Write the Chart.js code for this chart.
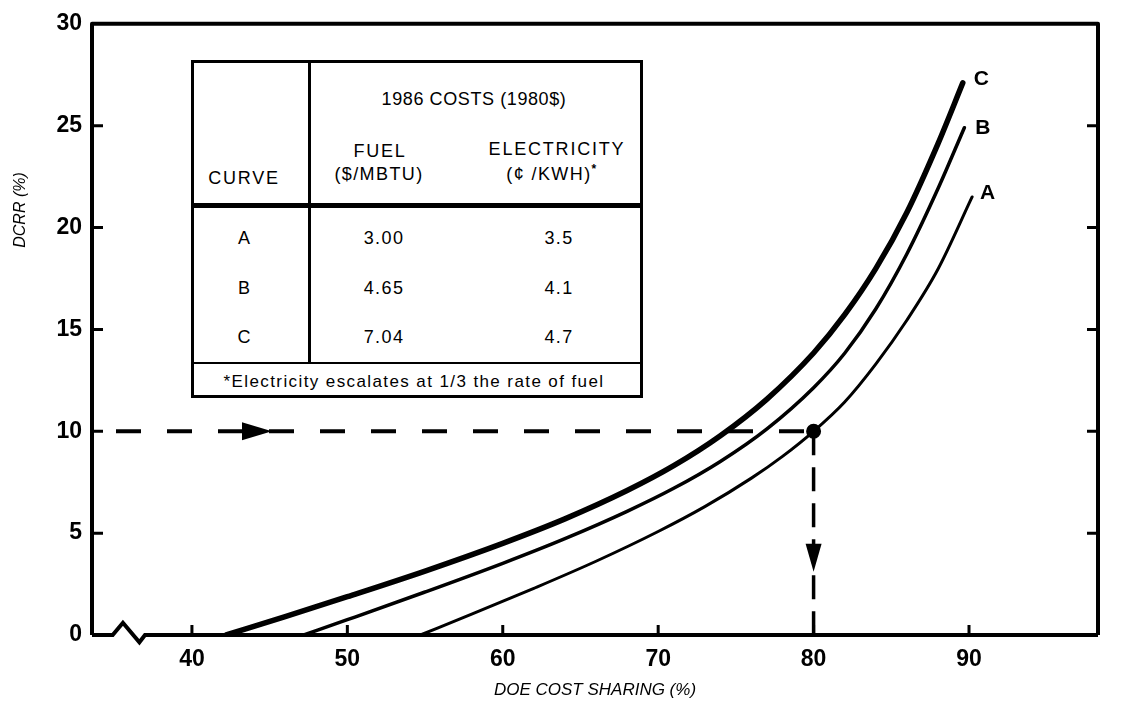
<!DOCTYPE html>
<html>
<head>
<meta charset="utf-8">
<script src="https://cdn.jsdelivr.net/npm/chart.js@4.4.1/dist/chart.umd.min.js"></script>
<style>
  html, body { margin: 0; padding: 0; background: #fff; }
  #wrap { position: relative; width: 1128px; height: 702px; overflow: hidden; }
  #chart { position: absolute; left: 0; top: 0; }
  #costTable { position: absolute; left: 191px; top: 60px; width: 452px; height: 338px;
    box-sizing: border-box; border: 3px solid #000; background: #fff;
    font-family: "Liberation Sans", Arial, sans-serif; color: #000; }
  #costTable .rule { position: absolute; background: #000; }
  #costTable .t { position: absolute; transform: translate(-50%, -50%); white-space: nowrap;
    font-size: 18px; letter-spacing: 1.8px; line-height: 1; }
  #costTable .head { letter-spacing: 0.6px; }
  #costTable .num { letter-spacing: 1.4px; }
  #costTable .note { font-size: 17px; letter-spacing: 1.4px; }
</style>
</head>
<body>
<div id="wrap">
  <canvas id="chart" width="1128" height="702"></canvas>
  <div id="costTable"></div>
</div>
<script>
// Axis ticks
const xTicks = [40, 50, 60, 70, 80, 90];
const yTicks = [0, 5, 10, 15, 20, 25, 30];
const xMin = 33.57, xMax = 98.3;

// DCRR (%) against DOE cost sharing (%) for each fuel/electricity cost case
const curveA = [
  {x: 54.7, y: 0}, {x: 58, y: 1.02}, {x: 62, y: 2.29}, {x: 66, y: 3.62}, {x: 70, y: 5.08},
  {x: 73, y: 6.3}, {x: 76, y: 7.7}, {x: 78, y: 8.77}, {x: 80, y: 10}, {x: 82, y: 11.44},
  {x: 84, y: 13.3}, {x: 86, y: 15.45}, {x: 88, y: 17.95}, {x: 90.2, y: 21.5}
];
const curveB = [
  {x: 47.2, y: 0}, {x: 50, y: 0.75}, {x: 55, y: 2.11}, {x: 60, y: 3.52}, {x: 64, y: 4.73},
  {x: 68, y: 6.07}, {x: 71, y: 7.2}, {x: 74, y: 8.52}, {x: 77, y: 10.12}, {x: 80, y: 12.14},
  {x: 82, y: 13.83}, {x: 84, y: 16.0}, {x: 86, y: 18.7}, {x: 88, y: 21.9}, {x: 89.7, y: 24.9}
];
const curveC = [
  {x: 42.2, y: 0}, {x: 46, y: 0.9}, {x: 50, y: 1.88}, {x: 55, y: 3.14}, {x: 60, y: 4.5},
  {x: 64, y: 5.7}, {x: 68, y: 7.09}, {x: 71, y: 8.31}, {x: 74, y: 9.78}, {x: 77, y: 11.58},
  {x: 80, y: 13.84}, {x: 82, y: 15.72}, {x: 84, y: 17.98}, {x: 86, y: 20.74}, {x: 88, y: 24.11},
  {x: 89.6, y: 27.1}
];
const curveNames = ['A', 'B', 'C'];

// Worked example: 10 % DCRR read across to curve A gives 80 % cost sharing
const example = {x: 80, y: 10};
const arrowTips = [{x: 45.15, y: 10, dir: 'right'}, {x: 80, y: 3.1, dir: 'down'}];

// Bottom axis line with the break symbol near the origin
const baseline = [
  {x: xMin, y: 0}, {x: 34.9, y: 0}, {x: 35.56, y: 0.6}, {x: 36.62, y: -0.36},
  {x: 36.98, y: 0}, {x: xMax, y: 0}
];

// Inset table
const tableHeader = '1986 COSTS (1980$)';
const fuelPrices = ['3.00', '4.65', '7.04'];
const elecPrices = ['3.5', '4.1', '4.7'];
const tableNote = '*Electricity escalates at 1/3 the rate of fuel';

const FONT = '"Liberation Sans", Arial, Helvetica, sans-serif';

// ---- build the inset table ----
(function buildTable() {
  const box = document.getElementById('costTable');
  const rule = (l, t, w, h) => {
    const d = document.createElement('div');
    d.className = 'rule';
    Object.assign(d.style, {left: l + 'px', top: t + 'px', width: w + 'px', height: h + 'px'});
    box.appendChild(d);
  };
  const text = (s, cx, cy, cls) => {
    const d = document.createElement('div');
    d.className = 't' + (cls ? ' ' + cls : '');
    d.textContent = s;
    d.style.left = cx + 'px';
    d.style.top = cy + 'px';
    box.appendChild(d);
    return d;
  };
  // coordinates inside the border box (origin = inner top-left at 194,63)
  const ox = 194, oy = 63;
  rule(308 - ox, 0, 3, 363 - oy);     // column divider
  rule(0, 203 - oy, 446, 5);          // heavy rule under the headings
  rule(0, 362 - oy, 446, 2);          // rule above the footnote

  text(tableHeader, 474 - ox, 99 - oy, 'head');
  text('FUEL', 380 - ox, 151 - oy);
  text('($/MBTU)', 379 - ox, 174 - oy, 'num');
  text('ELECTRICITY', 557 - ox, 149 - oy);
  const kwh = text('(\u00a2 /KWH)', 552 - ox, 173 - oy, 'num');
  const star = document.createElement('sup');
  star.textContent = '*';
  star.style.fontSize = '12px';
  star.style.fontWeight = 'bold';
  kwh.appendChild(star);
  text('CURVE', 244 - ox, 178 - oy);

  const rowY = [238, 288, 337];
  curveNames.forEach((n, i) => {
    text(n, 245 - ox, rowY[i] - oy);
    text(fuelPrices[i], 384 - ox, rowY[i] - oy, 'num');
    text(elecPrices[i], 559 - ox, rowY[i] - oy, 'num');
  });
  text(tableNote, 414 - ox, 381 - oy, 'note');
})();

// ---- frame, inward ticks, arrows, curve letters, axis titles ----
const decor = {
  id: 'decor',
  afterDatasetsDraw(chart) {
    const {ctx, chartArea: a, scales: {x, y}} = chart;
    ctx.save();
    ctx.strokeStyle = '#000';
    ctx.fillStyle = '#000';
    ctx.lineJoin = 'round';

    // left / top / right frame
    ctx.lineWidth = 4;
    ctx.beginPath();
    ctx.moveTo(a.left, a.bottom);
    ctx.lineTo(a.left, a.top);
    ctx.lineTo(a.right, a.top);
    ctx.lineTo(a.right, a.bottom);
    ctx.stroke();

    // inward tick marks
    ctx.lineWidth = 3;
    ctx.beginPath();
    xTicks.forEach(v => {
      const px = x.getPixelForValue(v);
      ctx.moveTo(px, a.bottom);
      ctx.lineTo(px, a.bottom - 10);
    });
    yTicks.slice(1, -1).forEach(v => {
      const py = y.getPixelForValue(v);
      ctx.moveTo(a.left, py); ctx.lineTo(a.left + 11, py);
      ctx.moveTo(a.right, py); ctx.lineTo(a.right - 11, py);
    });
    ctx.stroke();

    // arrow heads on the guide lines
    arrowTips.forEach(t => {
      const px = x.getPixelForValue(t.x), py = y.getPixelForValue(t.y);
      ctx.beginPath();
      if (t.dir === 'right') {
        ctx.moveTo(px, py); ctx.lineTo(px - 30, py - 9); ctx.lineTo(px - 30, py + 9);
      } else {
        ctx.moveTo(px, py); ctx.lineTo(px - 8, py - 28); ctx.lineTo(px + 8, py - 28);
      }
      ctx.closePath();
      ctx.fill();
    });

    // curve letters at the upper ends
    ctx.font = 'bold 21px ' + FONT;
    ctx.textAlign = 'left';
    ctx.textBaseline = 'middle';
    chart.data.datasets.forEach(ds => {
      if (!ds.curveName) return;
      const last = ds.data[ds.data.length - 1];
      ctx.fillText(ds.curveName, x.getPixelForValue(last.x) + ds.labelDx,
                   y.getPixelForValue(last.y) + ds.labelDy);
    });

    // axis titles
    ctx.font = 'italic 17px ' + FONT;
    ctx.textAlign = 'center';
    ctx.fillText('DOE COST SHARING (%)', (a.left + a.right) / 2, 690);
    ctx.save();
    ctx.translate(21, 210);
    ctx.rotate(-Math.PI / 2);
    ctx.font = 'italic 16px ' + FONT;
    ctx.fillText('DCRR (%)', 0, 0);
    ctx.restore();

    ctx.restore();
  }
};

const curveStyle = (data, name, width, dx, dy) => ({
  data, curveName: name, labelDx: dx, labelDy: dy, borderColor: '#000', borderWidth: width,
  pointRadius: 0, cubicInterpolationMode: 'monotone', borderCapStyle: 'round'
});

new Chart(document.getElementById('chart'), {
  type: 'line',
  data: {
    datasets: [
      curveStyle(curveA, 'A', 3, 8, -4),
      curveStyle(curveB, 'B', 3.5, 11, 0),
      curveStyle(curveC, 'C', 5.5, 11, -4),
      {
        data: [{x: xMin, y: example.y}, {x: example.x, y: example.y}],
        borderColor: '#000', borderWidth: 4, pointRadius: 0,
        borderDash: [25, 26], borderDashOffset: 27, clip: false
      },
      {
        data: [{x: example.x, y: example.y}, {x: example.x, y: 0}],
        borderColor: '#000', borderWidth: 3.5, pointRadius: 0,
        borderDash: [24, 12], borderDashOffset: 0, clip: false
      },
      {
        data: [example],
        showLine: false, pointRadius: 6, pointBorderWidth: 3,
        pointBackgroundColor: '#000', pointBorderColor: '#000', clip: false
      },
      {
        data: baseline, borderColor: '#000', borderWidth: 4, pointRadius: 0,
        tension: 0, clip: false, borderJoinStyle: 'miter'
      }
    ]
  },
  options: {
    responsive: false,
    devicePixelRatio: 1,
    animation: false,
    events: [],
    layout: {padding: {left: 0, right: 30, top: 18, bottom: 0}},
    plugins: {legend: {display: false}, tooltip: {enabled: false}},
    scales: {
      x: {
        type: 'linear', min: xMin, max: xMax,
        afterFit: s => { s.height = 67; },
        afterBuildTicks: s => { s.ticks = xTicks.map(v => ({value: v})); },
        grid: {display: false, drawTicks: false},
        border: {display: false},
        ticks: {color: '#000', padding: 11, maxRotation: 0, autoSkip: false,
                font: {family: FONT, size: 23, weight: 'bold'}}
      },
      y: {
        type: 'linear', min: 0, max: 30,
        afterFit: s => { s.width = 92; },
        afterBuildTicks: s => { s.ticks = yTicks.map(v => ({value: v})); },
        grid: {display: false, drawTicks: false},
        border: {display: false},
        ticks: {color: '#000', padding: 10, autoSkip: false,
                font: {family: FONT, size: 23, weight: 'bold'}}
      }
    }
  },
  plugins: [decor]
});
</script>
</body>
</html>
